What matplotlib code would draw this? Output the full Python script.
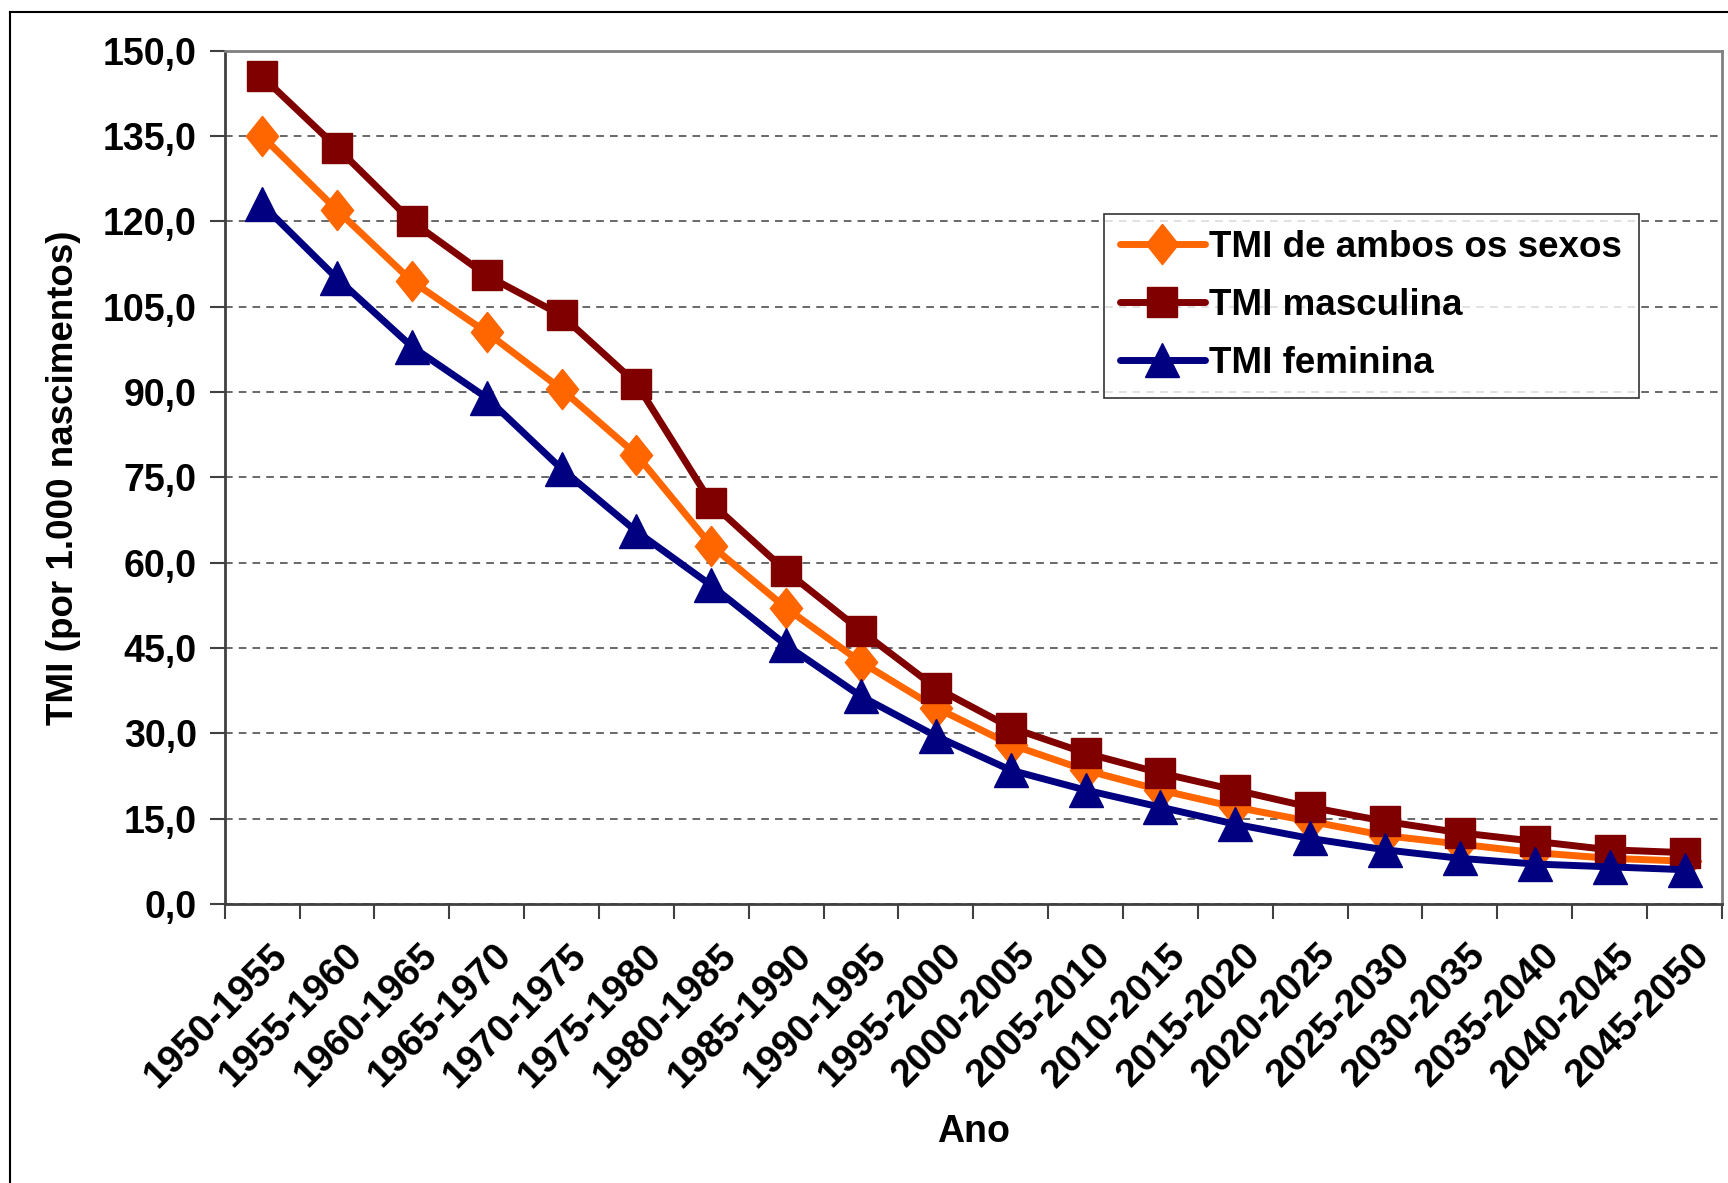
import numpy as np
import matplotlib
matplotlib.use("Agg")
import matplotlib.pyplot as plt
import matplotlib.transforms as mtransforms
from matplotlib.lines import Line2D

plt.rcParams['font.family'] = ['Liberation Sans', 'DejaVu Sans']
plt.rcParams['font.weight'] = 'bold'

# Dados
periodos = ['1950-1955', '1955-1960', '1960-1965', '1965-1970', '1970-1975',
            '1975-1980', '1980-1985', '1985-1990', '1990-1995', '1995-2000',
            '2000-2005', '2005-2010', '2010-2015', '2015-2020', '2020-2025',
            '2025-2030', '2030-2035', '2035-2040', '2040-2045', '2045-2050']
tmi_ambos = [135.0, 122.0, 109.5, 100.5, 90.5, 79.0, 63.0, 52.0, 42.5, 34.5,
             28.0, 23.5, 20.0, 17.0, 14.5, 12.0, 10.5, 9.0, 8.0, 7.5]
tmi_masc = [145.5, 133.0, 120.0, 110.5, 103.5, 91.5, 70.5, 58.5, 48.0, 38.0,
            31.0, 26.5, 23.0, 20.0, 17.0, 14.5, 12.5, 11.0, 9.5, 9.0]
tmi_fem = [123.0, 110.0, 98.0, 89.0, 76.5, 65.5, 56.0, 45.5, 36.5, 29.5,
           23.5, 20.0, 17.0, 14.0, 11.5, 9.5, 8.0, 7.0, 6.5, 6.0]
y_ticks = [0, 15, 30, 45, 60, 75, 90, 105, 120, 135, 150]

fig = plt.figure(figsize=(17.28, 11.83), dpi=100)
ax = fig.add_axes([0.130, 0.236, 0.8665, 0.721])

# moldura externa (só topo e esquerda visíveis)
fig.add_artist(Line2D([10/1728, 10/1728], [0, 1 - 12/1183], color='black', lw=1.5))
fig.add_artist(Line2D([10/1728, 1], [1 - 12/1183, 1 - 12/1183], color='black', lw=1.5))

x = np.arange(len(periodos))
losango = [(0, 1), (0.8, 0), (0, -1), (-0.8, 0), (0, 1)]

ax.plot(x, tmi_ambos, color='#FF6600', lw=5, marker=losango, ms=29,
        label='TMI de ambos os sexos', solid_capstyle='round')
ax.plot(x, tmi_masc, color='#800000', lw=5, marker='s', ms=21,
        label='TMI masculina', solid_capstyle='round')
ax.plot(x, tmi_fem, color='#000080', lw=5, marker='^', ms=24,
        label='TMI feminina', solid_capstyle='round')

ax.set_xlim(-0.5, len(periodos) - 0.5)
ax.set_ylim(0, 150)

ax.set_yticks(y_ticks)
ax.set_yticklabels([f"{v:.1f}".replace('.', ',') for v in y_ticks],
                   fontsize=27, fontweight='bold')
ax.tick_params(axis='y', length=11, width=1.5, pad=9, color='#404040')

ax.set_xticks(np.arange(len(periodos) + 1) - 0.5)
ax.set_xticklabels([])
ax.set_xticks(x, minor=True)
ax.set_xticklabels(periodos, minor=True, rotation=45, ha='right',
                   rotation_mode='anchor', fontsize=28, fontweight='bold')
ax.tick_params(axis='x', which='major', length=11, width=1.5, color='#404040')
ax.tick_params(axis='x', which='minor', length=0, pad=24)
desloc = mtransforms.ScaledTranslation(5/72, 0, fig.dpi_scale_trans)
for lbl in ax.get_xticklabels(minor=True):
    lbl.set_transform(lbl.get_transform() + desloc)

ax.yaxis.grid(True, linestyle=(0, (5, 4)), color='#404040', lw=1.1)
ax.set_axisbelow(True)

for s in ['top', 'right']:
    ax.spines[s].set_color('#808080')
    ax.spines[s].set_linewidth(2)
for s in ['left', 'bottom']:
    ax.spines[s].set_color('#404040')
    ax.spines[s].set_linewidth(2)

ax.set_ylabel('TMI (por 1.000 nascimentos)', fontsize=26.5, fontweight='bold', labelpad=16)
ax.set_xlabel('Ano', fontsize=27, fontweight='bold', labelpad=14)

leg = ax.legend(loc='upper left', bbox_to_anchor=(0.587, 0.809), fontsize=26.5,
                frameon=True, fancybox=False, handlelength=2.3,
                labelspacing=0.62, borderpad=0.45, handletextpad=0.12,
                borderaxespad=0)
leg.get_frame().set_edgecolor('black')
leg.get_frame().set_linewidth(1.2)

fig.savefig('out.png', dpi=100)
